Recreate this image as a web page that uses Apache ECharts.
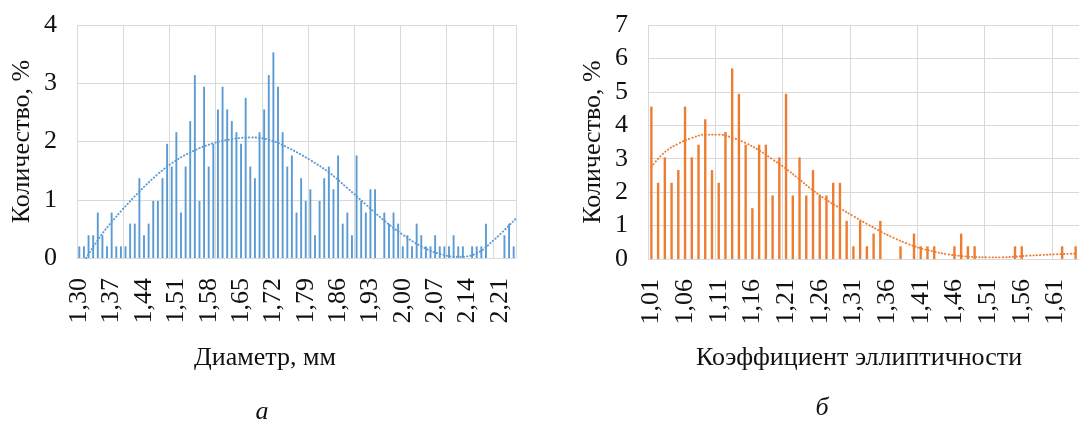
<!DOCTYPE html>
<html>
<head>
<meta charset="utf-8">
<script src="https://cdn.jsdelivr.net/npm/echarts@6/dist/echarts.min.js"></script>
<style>
html,body{margin:0;padding:0;background:#fff;}
#c{width:1079px;height:425px;}
</style>
</head>
<body>
<div id="c"></div>
<script>
// ---- Panel a: diameter distribution ----
const diamCats = ['1,30','1,31','1,32','1,33','1,34','1,35','1,36','1,37','1,38','1,39',
'1,40','1,41','1,42','1,43','1,44','1,45','1,46','1,47','1,48','1,49',
'1,50','1,51','1,52','1,53','1,54','1,55','1,56','1,57','1,58','1,59',
'1,60','1,61','1,62','1,63','1,64','1,65','1,66','1,67','1,68','1,69',
'1,70','1,71','1,72','1,73','1,74','1,75','1,76','1,77','1,78','1,79',
'1,80','1,81','1,82','1,83','1,84','1,85','1,86','1,87','1,88','1,89',
'1,90','1,91','1,92','1,93','1,94','1,95','1,96','1,97','1,98','1,99',
'2,00','2,01','2,02','2,03','2,04','2,05','2,06','2,07','2,08','2,09',
'2,10','2,11','2,12','2,13','2,14','2,15','2,16','2,17','2,18','2,19',
'2,20','2,21','2,22','2,23','2,24'];
const diamValues = [0.20,0.20,0.39,0.39,0.78,0.39,0.20,0.78,0.20,0.20,
0.20,0.59,0.59,1.37,0.39,0.59,0.98,0.98,1.37,1.96,
1.57,2.16,0.78,1.57,2.35,3.14,0.98,2.94,1.57,1.96,
2.55,2.94,2.55,2.35,2.16,1.96,2.75,1.57,1.37,2.16,
2.55,3.14,3.53,2.94,2.16,1.57,1.76,0.78,1.37,0.98,
1.18,0.39,0.98,1.37,1.57,1.18,1.76,0.59,0.78,0.39,
1.76,0.98,0.78,1.18,1.18,0,0.78,0.59,0.78,0.59,
0.20,0.39,0.20,0.59,0.39,0.20,0.20,0.39,0.20,0.20,
0.20,0.39,0.20,0.20,0,0.20,0.20,0.20,0.59,0,
0,0,0.39,0.59,0.20];
const diamTrendX = [1.315,1.35,1.39,1.43,1.47,1.51,1.55,1.59,1.63,1.67,1.71,1.75,1.80,1.84,1.88,1.92,1.96,2.00,2.04,2.08,2.12,2.16,2.20,2.245];
const diamTrendY = [0.0,0.42,0.80,1.14,1.44,1.68,1.85,1.97,2.04,2.07,2.03,1.90,1.68,1.47,1.20,0.92,0.64,0.40,0.20,0.07,0.02,0.08,0.33,0.68];
const diamYMax = 4;

// ---- Panel б: ellipticity coefficient distribution ----
const ellipCats = ['1,01','1,02','1,03','1,04','1,05','1,06','1,07','1,08','1,09','1,10',
'1,11','1,12','1,13','1,14','1,15','1,16','1,17','1,18','1,19','1,20',
'1,21','1,22','1,23','1,24','1,25','1,26','1,27','1,28','1,29','1,30',
'1,31','1,32','1,33','1,34','1,35','1,36','1,37','1,38','1,39','1,40',
'1,41','1,42','1,43','1,44','1,45','1,46','1,47','1,48','1,49','1,50',
'1,51','1,52','1,53','1,54','1,55','1,56','1,57','1,58','1,59','1,60',
'1,61','1,62','1,63','1,64'];
const ellipValues = [4.56,2.28,3.04,2.28,2.66,4.56,3.04,3.42,4.18,2.66,
2.28,3.80,5.70,4.94,3.42,1.52,3.42,3.42,1.90,3.04,
4.94,1.90,3.04,1.90,2.66,1.90,1.90,2.28,2.28,1.14,
0.38,1.14,0.38,0.76,1.14,0,0,0.38,0,0.76,
0.38,0.38,0.38,0,0,0.38,0.76,0.38,0.38,0,
0,0,0,0,0.38,0.38,0,0,0,0,
0,0.38,0,0.38];
const ellipTrendX = [1.01,1.03,1.05,1.07,1.09,1.11,1.13,1.15,1.17,1.19,1.21,1.23,1.25,1.27,1.29,1.31,1.33,1.35,1.37,1.39,1.41,1.43,1.45,1.47,1.49,1.51,1.53,1.55,1.57,1.59,1.61,1.64];
const ellipTrendY = [2.76,3.20,3.45,3.62,3.72,3.72,3.63,3.47,3.25,2.98,2.70,2.38,2.05,1.77,1.52,1.28,1.05,0.83,0.63,0.46,0.32,0.22,0.14,0.09,0.06,0.05,0.05,0.07,0.10,0.12,0.14,0.16];
const ellipYMax = 7;

const yTitle = 'Количество, %';
const xTitleA = 'Диаметр, мм';
const xTitleB = 'Коэффициент эллиптичности';
const panelA = 'а';
const panelB = 'б';

const FONT = '"Liberation Serif", "Times New Roman", serif';
const BLUE = '#5B9BD5';
const ORANGE = '#ED7D31';
const GRID = '#D9D9D9';

function catAxis(gridIndex, data, labelInterval) {
  return {
    type: 'category', gridIndex: gridIndex, data: data, boundaryGap: true,
    axisLine: {show: true, lineStyle: {color: GRID, width: 1}},
    axisTick: {show: false},
    axisLabel: {interval: labelInterval, rotate: 90, margin: 20, color: '#111',
      fontFamily: FONT, fontSize: 26},
    splitLine: {show: true, interval: 9, lineStyle: {color: GRID, width: 1}}
  };
}
function valXAxis(gridIndex, min, max) {
  return {type: 'value', gridIndex: gridIndex, min: min, max: max, show: false};
}
function yAxis(gridIndex, max) {
  return {
    type: 'value', gridIndex: gridIndex, min: 0, max: max, interval: 1,
    name: yTitle, nameLocation: 'middle', nameGap: 42,
    nameTextStyle: {fontFamily: FONT, fontSize: 26, color: '#111'},
    axisLine: {show: false}, axisTick: {show: false},
    axisLabel: {margin: 20, color: '#111', fontFamily: FONT, fontSize: 26},
    splitLine: {show: true, lineStyle: {color: GRID, width: 1}}
  };
}
const dotStyle = (c) => ({color: c, width: 1.9, type: [0.4, 3.0], cap: 'round'});

const chart = echarts.init(document.getElementById('c'), null, {renderer: 'canvas'});
chart.setOption({
  animation: false,
  backgroundColor: '#fff',
  grid: [
    {left: 77, top: 25, width: 439, height: 233},
    {left: 648, top: 25, width: 436, height: 234}
  ],
  xAxis: [
    catAxis(0, diamCats, 6),
    valXAxis(0, 1.295, 2.245),
    catAxis(1, ellipCats, 4),
    valXAxis(1, 1.005, 1.645)
  ],
  yAxis: [yAxis(0, diamYMax), yAxis(1, ellipYMax)],
  series: [
    {type: 'bar', xAxisIndex: 0, yAxisIndex: 0, data: diamValues, barWidth: 1.9,
      itemStyle: {color: BLUE}},
    {type: 'line', xAxisIndex: 1, yAxisIndex: 0,
      data: diamTrendX.map((x, i) => [x, diamTrendY[i]]), smooth: 0.4, symbol: 'none',
      lineStyle: dotStyle(BLUE)},
    {type: 'bar', xAxisIndex: 2, yAxisIndex: 1, data: ellipValues, barWidth: 2.4,
      itemStyle: {color: ORANGE}},
    {type: 'line', xAxisIndex: 3, yAxisIndex: 1,
      data: ellipTrendX.map((x, i) => [x, ellipTrendY[i]]), smooth: 0.4, symbol: 'none',
      lineStyle: dotStyle(ORANGE)}
  ],
  graphic: [
    {type: 'text', x: 265, y: 358, style: {text: xTitleA, fontFamily: FONT, fontSize: 26,
      fill: '#111', align: 'center', verticalAlign: 'middle'}},
    {type: 'text', x: 859, y: 358, style: {text: xTitleB, fontFamily: FONT, fontSize: 26,
      fill: '#111', align: 'center', verticalAlign: 'middle'}},
    {type: 'text', x: 262, y: 412, style: {text: panelA, fontFamily: FONT, fontSize: 26,
      fontStyle: 'italic', fill: '#111', align: 'center', verticalAlign: 'middle'}},
    {type: 'text', x: 822, y: 408, style: {text: panelB, fontFamily: FONT, fontSize: 26,
      fontStyle: 'italic', fill: '#111', align: 'center', verticalAlign: 'middle'}}
  ]
});
</script>
</body>
</html>
